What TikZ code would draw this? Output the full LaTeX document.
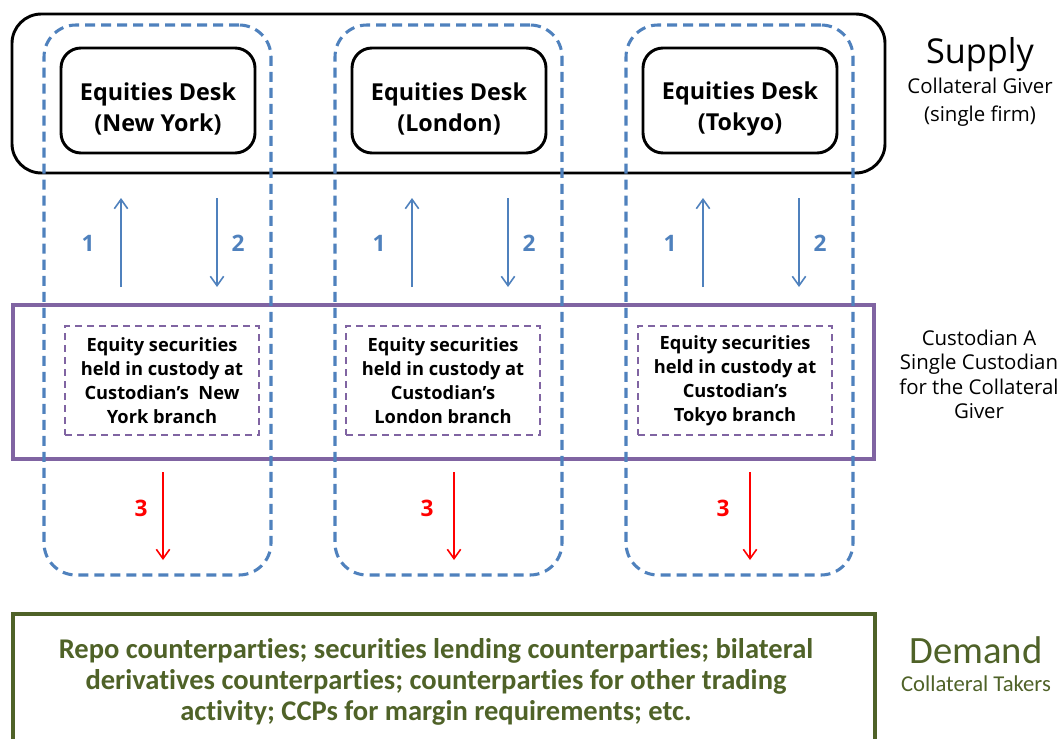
\documentclass[tikz,border=0pt]{standalone}
\usepackage{fontspec}
\setmainfont{Open Sans}
\newfontfamily\calfont[Ligatures=NoCommon]{Carlito}
\usetikzlibrary{arrows.meta}
\definecolor{dblue}{HTML}{4F81BD}
\definecolor{dpurple}{HTML}{8064A2}
\definecolor{dgreen}{HTML}{4F6228}
\definecolor{dred}{HTML}{FF0000}
\tikzset{
  firmbox/.style={draw=black, line width=2.2pt, rounded corners=22pt, minimum width=654.75pt, minimum height=119.25pt, inner sep=0pt},
  colbox/.style={draw=dblue, line width=2.3pt, dash pattern=on 7.5pt off 4.5pt, rounded corners=24pt, minimum width=170.25pt, minimum height=412.5pt, inner sep=0pt},
  deskbox/.style={draw=black, line width=2.2pt, rounded corners=15pt, minimum width=145.5pt, minimum height=78.75pt, inner sep=0pt},
  desktxt/.style={font=\bfseries\fontsize{17.5}{23.25}\selectfont, align=center, inner sep=0pt},
  custbox/.style={draw=dpurple, line width=2.4pt, minimum width=645.75pt, minimum height=115.5pt, inner sep=0pt},
  holdbox/.style={draw=dpurple, line width=1.9pt, dash pattern=on 5.5pt off 3.5pt, minimum width=145.5pt, minimum height=81.75pt, inner sep=0pt, font=\bfseries\fontsize{13.7}{18.1}\selectfont, align=center},
  demandbox/.style={draw=dgreen, line width=2.4pt, minimum width=646.5pt, minimum height=105pt, inner sep=0pt},
  demandtxt/.style={font=\calfont\bfseries\fontsize{21.4}{23.25}\selectfont, text=dgreen, align=center, inner sep=0pt},
  bluearrow/.style={draw=dblue, line width=1.2pt, -{Straight Barb[length=7pt,width=10pt,line width=1.2pt]}},
  redarrow/.style={draw=dred, line width=1.2pt, -{Straight Barb[length=7pt,width=10pt,line width=1.2pt]}},
  bluenum/.style={text=dblue, font=\bfseries\fontsize{17}{18}\selectfont, inner sep=0pt},
  rednum/.style={text=dred, font=\bfseries\fontsize{17}{18}\selectfont, inner sep=0pt},
  sidebig/.style={font=\fontsize{25.7}{28}\selectfont, inner sep=0pt},
  sidesmall/.style={font=\fontsize{15.3}{21}\selectfont, align=center, inner sep=0pt},
}
\begin{document}
\begin{tikzpicture}[x=0.75pt,y=-0.75pt]
\useasboundingbox (0,0) rectangle (1062,738);
\clip (0,0) rectangle (1062,738);
% supply firm
\node[firmbox] (firm) at (448.5,93.5) {};
% custodian
\node[custbox] (cust) at (443.5,382) {};
% demand
\node[demandbox] (dem) at (444,684) {};
\node[demandtxt] (demtxt) at (436,682) {Repo counterparties; securities lending counterparties; bilateral\\derivatives counterparties; counterparties for other trading\\activity; CCPs for margin requirements; etc.};
% side labels
\node[sidebig] (supply) at (980,55) {Supply};
\node[sidesmall] (giver) at (980,102) {Collateral Giver\\(single firm)};
\node[sidesmall, font=\fontsize{15.3}{18.25}\selectfont] (custlbl) at (979,374.5) {Custodian A\\Single Custodian\\for the Collateral\\Giver};
\node[font=\calfont\fontsize{29}{30}\selectfont, text=dgreen, inner sep=0pt] (demand) at (976,650) {Demand};
\node[font=\calfont\fontsize{17}{18}\selectfont, text=dgreen, inner sep=0pt] (takers) at (976,684) {Collateral Takers};
% columns
\foreach \i/\dx/\hx/\rx/\tx/\city/\hold in {1/0/0/0/0/New York/{Equity securities\\held in custody at\\Custodian’s\ \ New\\York branch},
                          2/291/281/291/286/London/{Equity securities\\held in custody at\\Custodian’s\\London branch},
                          3/582/573/587/582/Tokyo/{Equity securities\\held in custody at\\Custodian’s\\Tokyo branch}}{
  \node[deskbox] (desk\i) at (158+\dx,100.5) {};
  \node[desktxt] (desktxt\i) at (158+\dx,108.5) {Equities Desk\\(\city)};
  \node[holdbox] (hold\i) at (162+\hx,380.5) {\hold};
  \coordinate (ua\i) at (121+\dx,287);
  \coordinate (ub\i) at (121+\dx,198);
  \coordinate (da\i) at (217+\dx,198);
  \coordinate (db\i) at (217+\dx,287);
  \draw[bluearrow] (ua\i) -- (ub\i);
  \draw[bluearrow] (da\i) -- (db\i);
  \node[bluenum] (n1\i) at (88+\dx,243) {1};
  \node[bluenum] (n2\i) at (238+\dx,243) {2};
  \coordinate (ra\i) at (163+\rx,472);
  \coordinate (rb\i) at (163+\rx,560);
  \draw[redarrow] (ra\i) -- (rb\i);
  \node[rednum] (n3\i) at (141+\tx,508) {3};
  \node[colbox] (col\i) at (157.5+\dx,300) {};
}
\end{tikzpicture}
\end{document}
